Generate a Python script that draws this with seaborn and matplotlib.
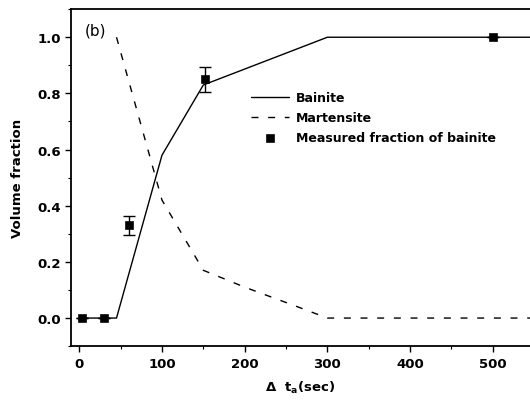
import numpy as np
import pandas as pd
import matplotlib
matplotlib.use("Agg")
import matplotlib.pyplot as plt
import matplotlib.ticker as mtick
import seaborn as sns

# データ
bainite_t = [0, 45, 100, 150, 300, 545]
bainite_f = [0.0, 0.0, 0.58, 0.83, 1.0, 1.0]

martensite_t = [45, 100, 150, 200, 264, 300, 545]
martensite_f = [1.0, 0.42, 0.17, 0.11, 0.04, 0.0, 0.0]

meas_t = [3, 30, 60, 152, 500]
meas_f = [0.0, 0.0, 0.33, 0.85, 1.0]
meas_err = [0.0, 0.0, 0.035, 0.045, 0.0]

sns.set_style("ticks")
plt.rcParams["font.family"] = ["DejaVu Sans"]
plt.rcParams["text.color"] = "black"
plt.rcParams["axes.labelcolor"] = "black"
plt.rcParams["xtick.color"] = "black"
plt.rcParams["ytick.color"] = "black"

fig = plt.figure(figsize=(5.3, 4.06), dpi=100, facecolor="white")
ax = fig.add_axes([0.134, 0.145, 0.866, 0.83])

sns.lineplot(x=bainite_t, y=bainite_f, color="black", lw=1.0, ax=ax, label="Bainite")
sns.lineplot(x=martensite_t, y=martensite_f, color="black", lw=1.0, ax=ax,
             label="Martensite", linestyle=(0, (5, 7)))
sns.scatterplot(x=meas_t, y=meas_f, marker="s", s=34, color="black",
                edgecolor="black", ax=ax, label="Measured fraction of bainite", zorder=5)
ax.errorbar(meas_t, meas_f, yerr=meas_err, fmt="none", ecolor="black",
            elinewidth=1.0, capsize=4, capthick=1.0)

ax.set_xlim(-10, 545)
ax.set_ylim(-0.1, 1.1)
ax.xaxis.set_major_locator(mtick.MultipleLocator(100))
ax.xaxis.set_minor_locator(mtick.MultipleLocator(50))
ax.yaxis.set_major_locator(mtick.MultipleLocator(0.2))
ax.yaxis.set_minor_locator(mtick.MultipleLocator(0.1))
ax.yaxis.set_major_formatter(mtick.FormatStrFormatter("%.1f"))
ax.tick_params(which="major", direction="out", length=4, width=1.0, labelsize=9.5)
ax.tick_params(which="minor", direction="out", length=2.5, width=0.8)
for lab in ax.get_xticklabels() + ax.get_yticklabels():
    lab.set_fontweight("bold")

for s in ["left", "bottom", "top"]:
    ax.spines[s].set_linewidth(1.3)
    ax.spines[s].set_color("black")
ax.spines["right"].set_visible(False)

ax.set_ylabel("Volume fraction", fontsize=9.5, fontweight="bold", labelpad=9)
ax.set_xlabel(r"Δ  $\mathbf{t_a}$(sec)", fontsize=9.5, fontweight="bold", labelpad=7)
ax.text(0.03, 0.96, "(b)", transform=ax.transAxes, fontsize=11, va="top")

leg = ax.legend(loc="upper left", bbox_to_anchor=(0.379, 0.775), frameon=False,
                prop={"weight": "bold", "size": 9}, handlelength=3.0,
                labelspacing=0.55, handletextpad=0.6, borderpad=0)

fig.savefig("out.png", dpi=100, facecolor="white")
